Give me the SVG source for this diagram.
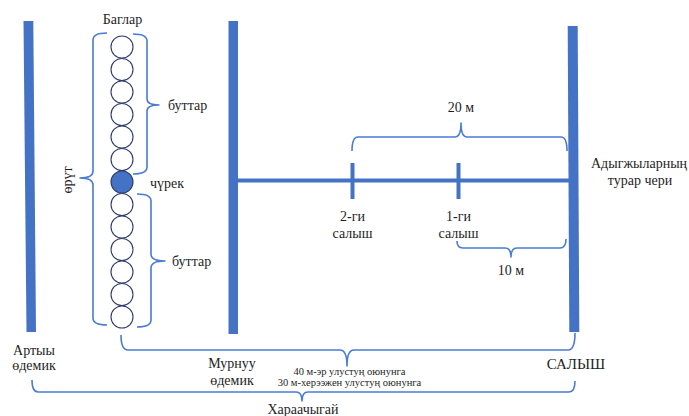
<svg xmlns="http://www.w3.org/2000/svg" width="689" height="416" viewBox="0 0 689 416">
<style>
.bar{fill:#4472c4}
.br{fill:none;stroke:#4a7bd4;stroke-width:1.6;stroke-linejoin:round}
.c{fill:#fff;stroke:#2f3d6b;stroke-width:1.1}
.cf{fill:#4472c4;stroke:#2f3d6b;stroke-width:1.1}
text{font-family:"Liberation Serif","DejaVu Serif",serif;fill:#1e1e1e;font-size:14px}
.m{text-anchor:middle}
.s{font-size:10.5px}
</style>
<rect width="689" height="416" fill="#fff"/>
<g id="connectors">
<polygon class="bar" points="23.5,21 33.3,21 36,332 26.5,332"/>
<rect class="bar" x="228.5" y="21" width="9.5" height="313"/>
<polygon class="bar" points="567.7,26 577.7,26 579.3,332 569.3,332"/>
<line x1="238" y1="180.5" x2="570" y2="180.5" stroke="#4472c4" stroke-width="4"/>
<line x1="352.5" y1="163" x2="352.5" y2="199" stroke="#4472c4" stroke-width="4"/>
<line x1="458.5" y1="163" x2="458.5" y2="199" stroke="#4472c4" stroke-width="4"/>
<path class="br" d="M107,33 Q93,33 93,40 L93,171 Q93,178 80,178 Q93,178 93,185 L93,318 Q93,325 107,325"/>
<path class="br" d="M133,34 Q147,34 147,41 L147,99 Q147,105 159,105 Q147,105 147,111 L147,167 Q147,174 133,174"/>
<path class="br" d="M137,194 Q151,194 151,201 L151,254 Q151,261 165,261 Q151,261 151,268 L151,320 Q151,327 137,327"/>
<path class="br" d="M352,151 Q352,137 358,137 L455,137 Q461,137 461,123 Q461,137 467,137 L561,137 Q567,137 567,151"/>
<path class="br" d="M457,241 Q457,248 463,248 L505,248 Q511,248 511,257 Q511,248 517,248 L560,248 Q566,248 566,239"/>
<path class="br" d="M121,335 Q121,350 128,350 L340,350 Q347,350 347,366 Q347,350 354,350 L568,350 Q575,350 575,333"/>
<path class="br" d="M32,380 Q32,392 38,392 L296,392 Q302,392 302,401 Q302,392 308,392 L569,392 Q575,392 575,381"/>
</g>
<g id="chain">
<circle class="c" cx="122" cy="47" r="11"/>
<circle class="c" cx="122" cy="69.5" r="11"/>
<circle class="c" cx="122" cy="92" r="11"/>
<circle class="c" cx="122" cy="114.5" r="11"/>
<circle class="c" cx="122" cy="137" r="11"/>
<circle class="c" cx="122" cy="159.5" r="11"/>
<circle class="cf" cx="122" cy="182" r="11"/>
<circle class="c" cx="122" cy="204.5" r="11"/>
<circle class="c" cx="122" cy="227" r="11"/>
<circle class="c" cx="122" cy="249.5" r="11"/>
<circle class="c" cx="122" cy="272" r="11"/>
<circle class="c" cx="122" cy="294.5" r="11"/>
<circle class="c" cx="122" cy="317" r="11"/>
</g>
<g id="labels">
<text class="m" x="122.5" y="24">Баглар</text>
<text x="168" y="110">буттар</text>
<text x="150" y="188">чүрек</text>
<text x="172" y="266">буттар</text>
<text class="m" transform="translate(72,180) rotate(-90)">өрүт</text>
<text class="m" x="461" y="112">20 м</text>
<text class="m" x="352.5" y="221">2-ги</text>
<text class="m" x="352.5" y="238">салыш</text>
<text class="m" x="458.5" y="221">1-ги</text>
<text class="m" x="458.5" y="238">салыш</text>
<text class="m" x="511" y="275">10 м</text>
<text x="591" y="168">Адыгжыларның</text>
<text class="m" x="640" y="185">турар чери</text>
<text class="m" x="34" y="355">Артыы</text>
<text class="m" x="34" y="370">өдемик</text>
<text class="m" x="232" y="368">Мурнуу</text>
<text class="m" x="232" y="385">өдемик</text>
<text class="m s" x="349.5" y="374.5">40 м-эр улустуң оюнунга</text>
<text class="m s" x="349.5" y="386">30 м-херээжен улустуң оюнунга</text>
<text class="m" x="576" y="369" style="font-size:15px">САЛЫШ</text>
<text class="m" x="303" y="414">Хараачыгай</text>
</g>
</svg>
